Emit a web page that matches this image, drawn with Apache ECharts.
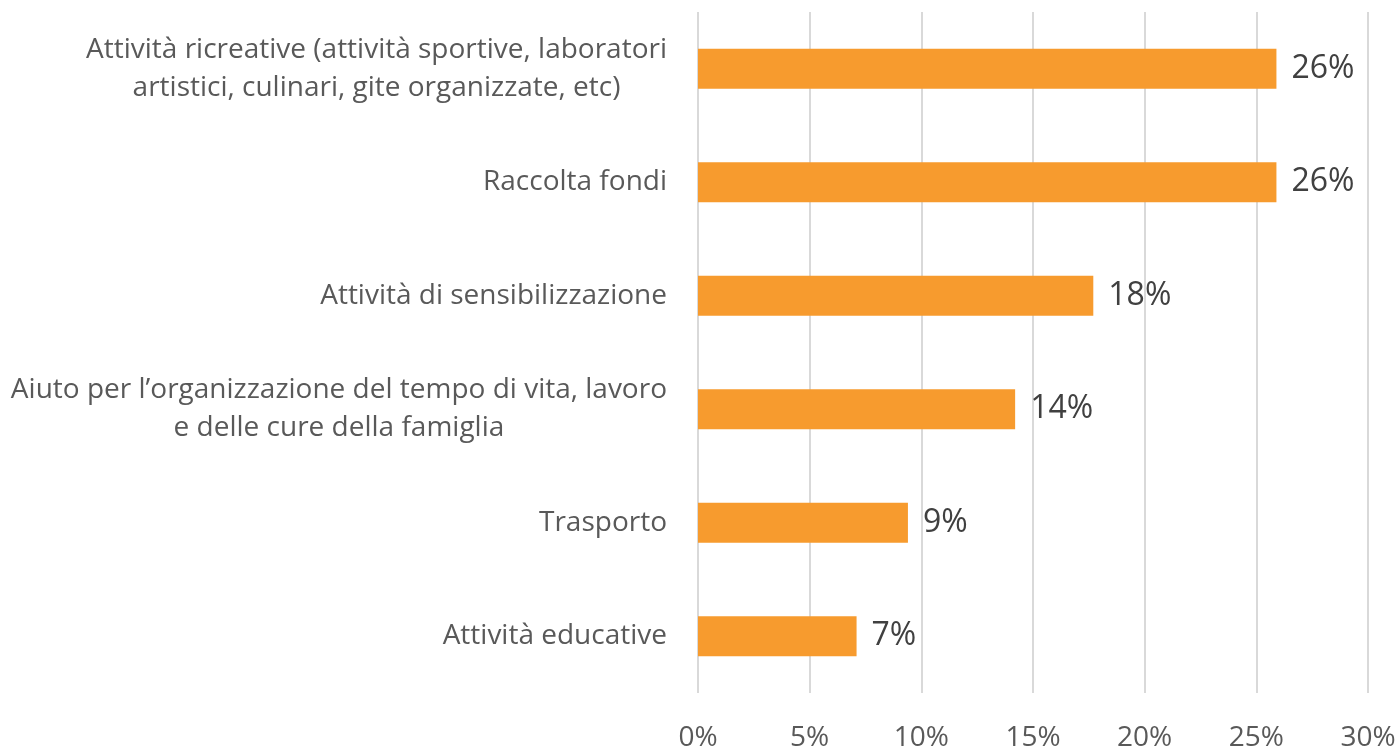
<!DOCTYPE html>
<html><head><meta charset="utf-8">
<script src="https://cdn.jsdelivr.net/npm/echarts@6/dist/echarts.min.js"></script>
<style>html,body{margin:0;padding:0;background:#fff}#c{width:1399px;height:752px}</style>
</head><body><div id="c"></div>
<script>
const categories = [
  "Attività ricreative (attività sportive, laboratori\nartistici, culinari, gite organizzate, etc)",
  "Raccolta fondi",
  "Attività di sensibilizzazione",
  "Aiuto per l’organizzazione del tempo di vita, lavoro\ne delle cure della famiglia",
  "Trasporto",
  "Attività educative"
];
const values = [25.9, 25.9, 17.7, 14.2, 9.4, 7.1];
const xTicks = { min: 0, max: 30, interval: 5 };

const chart = echarts.init(document.getElementById('c'));
chart.setOption({
  animation: false,
  textStyle: { fontFamily: 'Open Sans' },
  grid: { left: 698, right: 31, top: 12, bottom: 52, containLabel: false },
  xAxis: {
    type: 'value', min: xTicks.min, max: xTicks.max, interval: xTicks.interval,
    axisLine: { show: false }, axisTick: { show: false },
    splitLine: { lineStyle: { color: '#d9d9d9', width: 2 } },
    axisLabel: { formatter: '{value}%', color: '#595959', fontSize: 28, margin: 31, fontFamily: 'Open Sans' }
  },
  yAxis: {
    type: 'category', inverse: true, data: categories,
    axisLine: { show: false }, axisTick: { show: false },
    axisLabel: {
      margin: 31, color: '#595959', fontSize: 28, lineHeight: 38, fontFamily: 'Open Sans',
      formatter: v => v.split('\n').map(s => '{c|' + s + '}').join('\n'),
      rich: { c: { align: 'center', fontSize: 28, lineHeight: 38, color: '#595959', fontFamily: 'Open Sans' } }
    }
  },
  series: [{
    type: 'bar', data: values, barWidth: 40,
    itemStyle: { color: '#F79B2E' },
    label: {
      show: true, position: 'right', distance: 15, color: '#404040', fontSize: 32, fontFamily: 'Open Sans',
      formatter: p => Math.round(p.value) + '%'
    }
  }]
});
</script></body></html>
